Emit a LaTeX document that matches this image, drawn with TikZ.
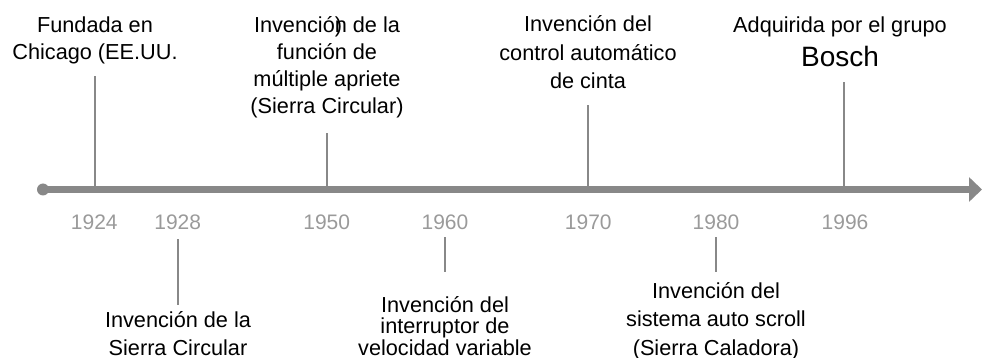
\documentclass[tikz,border=0pt]{standalone}
\usepackage{fontspec}
\setmainfont{Liberation Sans}
\usetikzlibrary{arrows.meta}
\definecolor{linegray}{HTML}{888888}
\definecolor{yeargray}{HTML}{9A9A9A}
\begin{document}
\begin{tikzpicture}
    [
        x=1pt, y=-1pt,
        event/.style = {align=center, inner sep=0pt, anchor=base, font=\fontsize{21.7}{27}\selectfont},
        year/.style = {inner sep=0pt, anchor=base, text=yeargray, font=\fontsize{21}{25}\selectfont},
        tick/.style = {draw=linegray, line width=2.2pt},
        axis/.style = {draw=linegray, line width=6.5pt, -{Triangle[length=13pt, width=24pt]}},
    ]
    \useasboundingbox (0,0) rectangle (982,358);

    \coordinate (start) at (43,189.5);
    \coordinate (end) at (982,189.5);

    \coordinate (a1924) at (95,189.5);
    \coordinate (e1924) at (95,76);
    \coordinate (a1950) at (327,189.5);
    \coordinate (e1950) at (327,133);
    \coordinate (a1970) at (588,189.5);
    \coordinate (e1970) at (588,105);
    \coordinate (a1996) at (844,189.5);
    \coordinate (e1996) at (844,82);

    \coordinate (a1928) at (178,239);
    \coordinate (e1928) at (178,305);
    \coordinate (a1960) at (445,237);
    \coordinate (e1960) at (445,272);
    \coordinate (a1980) at (716,237);
    \coordinate (e1980) at (716,272);

    \node[event] (ev1924) at (95,60) {Fundada en\\Chicago (EE.UU.};
    \node[event] (ev1950) at (327,114) {Invenció\rlap{)}n de la\\función de\\múltiple apriete\\(Sierra Circular)};
    \node[event] (ev1970) at (588,89) {Invención del\\[1.5pt]control automático\\[1.5pt]de cinta};
    \node[event] (ev1996) at (840,66.7) {Adquirida por el grupo\\[7pt]{\fontsize{28}{28}\selectfont Bosch}};

    \node[event] (ev1928) at (178,355) {Invención de la\\[1pt]Sierra Circular};
    \node[event, font=\fontsize{21.7}{21.5}\selectfont] (ev1960) at (445,355) {Invención del\\interruptor de\\velocidad variable};
    \node[event] (ev1980) at (716,355) {Invención del\\[1.5pt]sistema auto scroll\\[1.5pt](Sierra Caladora)};

    \node[year] (y1924) at (94.3,229.3) {1924};
    \node[year] (y1928) at (177.7,229.3) {1928};
    \node[year] (y1950) at (326.7,229.3) {1950};
    \node[year] (y1960) at (445,229.3) {1960};
    \node[year] (y1970) at (588.3,229.3) {1970};
    \node[year] (y1980) at (716,229.3) {1980};
    \node[year] (y1996) at (845,229.3) {1996};

    \fill[linegray] (start) circle (6pt);
    \draw[axis] (start) -- (end);

    \draw[tick] (a1924) -- (e1924);
    \draw[tick] (a1950) -- (e1950);
    \draw[tick] (a1970) -- (e1970);
    \draw[tick] (a1996) -- (e1996);
    \draw[tick] (a1928) -- (e1928);
    \draw[tick] (a1960) -- (e1960);
    \draw[tick] (a1980) -- (e1980);
\end{tikzpicture}
\end{document}
